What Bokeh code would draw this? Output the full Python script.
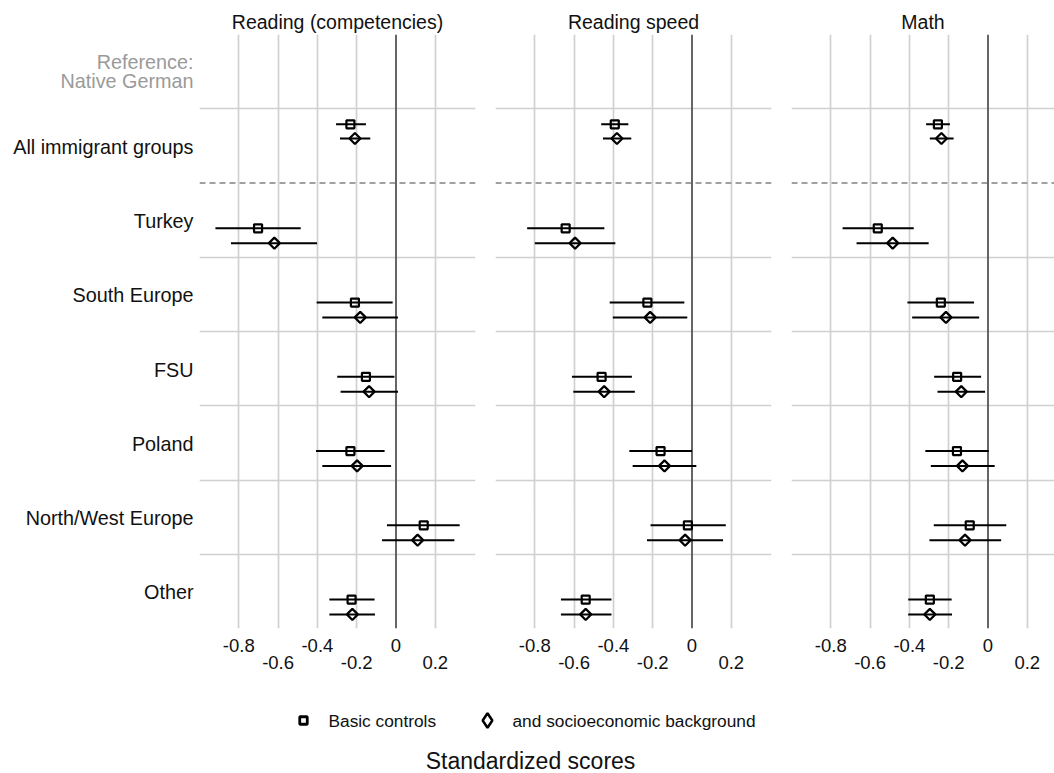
import math
from bokeh.plotting import figure
from bokeh.layouts import row, column
from bokeh.models import Range1d, FixedTicker, LinearAxis, Span, ColumnDataSource
from bokeh.core.properties import value
from bokeh.embed import file_html
from bokeh.resources import INLINE

# ---------------- data ----------------
groups = ["All immigrant groups", "Turkey", "South Europe", "FSU", "Poland",
          "North/West Europe", "Other"]
reference_label = "Reference:\nNative German"
outcomes = ["Reading (competencies)", "Reading speed", "Math"]
models = ["Basic controls", "and socioeconomic background"]

x_ticks = [-0.8, -0.6, -0.4, -0.2, 0, 0.2]
x_tick_labels = ["-0.8", "-0.6", "-0.4", "-0.2", "0", "0.2"]
x_title = "Standardized scores"

# Reading (competencies)
read_basic = [-0.232, -0.702, -0.209, -0.153, -0.232, 0.141, -0.226]
read_basic_lo = [-0.305, -0.919, -0.404, -0.299, -0.407, -0.046, -0.339]
read_basic_hi = [-0.153, -0.485, -0.017, -0.008, -0.058, 0.324, -0.109]
read_ses = [-0.209, -0.619, -0.182, -0.137, -0.198, 0.110, -0.222]
read_ses_lo = [-0.285, -0.840, -0.375, -0.282, -0.375, -0.071, -0.339]
read_ses_hi = [-0.131, -0.402, 0.010, 0.010, -0.025, 0.297, -0.107]

# Reading speed
speed_basic = [-0.393, -0.643, -0.227, -0.460, -0.160, -0.021, -0.541]
speed_basic_lo = [-0.462, -0.839, -0.419, -0.611, -0.319, -0.211, -0.667]
speed_basic_hi = [-0.324, -0.446, -0.039, -0.306, 0.000, 0.172, -0.410]
speed_ses = [-0.382, -0.595, -0.213, -0.447, -0.140, -0.035, -0.541]
speed_ses_lo = [-0.453, -0.800, -0.403, -0.604, -0.302, -0.229, -0.667]
speed_ses_hi = [-0.309, -0.390, -0.024, -0.291, 0.022, 0.158, -0.410]

# Math
math_basic = [-0.255, -0.561, -0.240, -0.157, -0.158, -0.093, -0.296]
math_basic_lo = [-0.315, -0.740, -0.410, -0.274, -0.319, -0.276, -0.406]
math_basic_hi = [-0.194, -0.378, -0.071, -0.035, 0.004, 0.093, -0.185]
math_ses = [-0.237, -0.485, -0.214, -0.136, -0.130, -0.117, -0.296]
math_ses_lo = [-0.296, -0.669, -0.386, -0.257, -0.291, -0.298, -0.406]
math_ses_hi = [-0.175, -0.302, -0.045, -0.015, 0.034, 0.067, -0.183]

# ---------------- styling / layout ----------------
FONT = "Liberation Sans"
GRID = "#d0d0d0"
PX_PER_UNIT = 196.5
X_START = -1.0
FRAME_TOP, FRAME_H, FRAME_BOTTOM_BORDER = 34, 594, 52
ROW_H = FRAME_TOP + FRAME_H + FRAME_BOTTOM_BORDER
LABEL_W = 199
panel_frames = [276, 276, 263]
panel_borders = [(0, 10), (10, 10), (10, 0)]

# band index for each group (band 0 = reference row)
bands = list(range(1, len(groups) + 1))


def y_offsets(band):
    # vertical placement of the two estimates inside a band
    if band == 1:
        return 0.21, 0.40
    return 0.61, 0.81


y_range = Range1d(len(groups) + 1, 0)

# label column
lab = figure(width=LABEL_W, height=ROW_H, x_range=Range1d(0, 1), y_range=y_range,
             toolbar_location=None, output_backend="svg",
             min_border_left=0, min_border_right=0, min_border_top=FRAME_TOP,
             min_border_bottom=FRAME_BOTTOM_BORDER,
             x_axis_location=None, y_axis_location=None, outline_line_color=None)
lab.grid.visible = False
lab.text(x=[1] * len(groups), y=[b + 0.5 for b in bands], text=groups,
         text_align="right", text_baseline="middle", x_offset=-6, y_offset=1,
         text_font=value(FONT), text_font_size="19.8px", text_color="#111111")
lab.text(x=[1], y=[0.5], text=[reference_label], text_align="right",
         text_baseline="middle", x_offset=-6, y_offset=0, text_line_height=0.87,
         text_font=value(FONT), text_font_size="19.8px", text_color="#9a9a9a")

series = [
    (read_basic, read_basic_lo, read_basic_hi, read_ses, read_ses_lo, read_ses_hi),
    (speed_basic, speed_basic_lo, speed_basic_hi, speed_ses, speed_ses_lo, speed_ses_hi),
    (math_basic, math_basic_lo, math_basic_hi, math_ses, math_ses_lo, math_ses_hi),
]

overrides = {t: l for t, l in zip(x_ticks, x_tick_labels)}
row1 = x_ticks[0::2]
row2 = x_ticks[1::2]

panels = []
for j, outcome in enumerate(outcomes):
    fw = panel_frames[j]
    bl, br = panel_borders[j]
    p = figure(width=fw + bl + br, height=ROW_H,
               x_range=Range1d(X_START, X_START + fw / PX_PER_UNIT), y_range=y_range,
               toolbar_location=None, output_backend="svg",
               min_border_left=bl, min_border_right=br, min_border_top=FRAME_TOP,
               min_border_bottom=FRAME_BOTTOM_BORDER,
               y_axis_location=None, outline_line_color=None, title=outcome)
    p.title.align = "center"
    p.title.text_font = FONT
    p.title.text_font_size = "19.5px"
    p.title.text_font_style = "normal"
    p.title.text_color = "#111111"
    p.title.standoff = 4

    p.xgrid.ticker = FixedTicker(ticks=[t for t in x_ticks if t != 0])
    p.xgrid.grid_line_color = GRID
    p.xgrid.grid_line_width = 1.7
    p.ygrid.ticker = FixedTicker(ticks=[1] + list(range(3, len(groups) + 1)))
    p.ygrid.grid_line_color = GRID
    p.ygrid.grid_line_width = 1.7

    ax1 = p.xaxis[0]
    ax2 = LinearAxis()
    p.add_layout(ax2, "below")
    for ax, ticks, st in ((ax1, row1, 10), (ax2, row2, 1)):
        ax.ticker = FixedTicker(ticks=ticks)
        ax.major_label_overrides = {t: overrides[t] for t in ticks}
        ax.axis_line_color = None
        ax.major_tick_line_color = None
        ax.minor_tick_line_color = None
        ax.major_tick_out = 0
        ax.major_tick_in = 0
        ax.major_label_standoff = st
        ax.major_label_text_font = FONT
        ax.major_label_text_font_size = "18.5px"
        ax.major_label_text_color = "#111111"

    p.add_layout(Span(location=2, dimension="width", line_color="#a0a0a0",
                      line_width=1.8, line_dash="6 4", level="underlay"))
    p.add_layout(Span(location=0, dimension="height", line_color="#555555",
                      line_width=1.8, level="underlay"))

    b, blo, bhi, s, slo, shi = series[j]
    ysq = [bd + y_offsets(bd)[0] for bd in bands]
    ydi = [bd + y_offsets(bd)[1] for bd in bands]
    src_b = ColumnDataSource(dict(x=b, lo=blo, hi=bhi, y=ysq))
    src_s = ColumnDataSource(dict(x=s, lo=slo, hi=shi, y=ydi))
    for src in (src_b, src_s):
        p.segment(x0="lo", y0="y", x1="hi", y1="y", source=src,
                  line_color="black", line_width=2)
    p.scatter(x="x", y="y", source=src_b, marker="square", size=8,
              fill_color=None, line_color="black", line_width=2.2)
    p.scatter(x="x", y="y", source=src_s, marker="square", size=7.8, angle=math.pi / 4,
              fill_color=None, line_color="black", line_width=2.2)
    panels.append(p)

# legend + overall axis title
TOTAL_W = LABEL_W + sum(fw + bl + br for fw, (bl, br) in zip(panel_frames, panel_borders))
LEG_H = 92
leg = figure(width=TOTAL_W, height=LEG_H, x_range=Range1d(0, TOTAL_W),
             y_range=Range1d(LEG_H, 0), toolbar_location=None, output_backend="svg",
             min_border=0, x_axis_location=None, y_axis_location=None,
             outline_line_color=None)
leg.grid.visible = False
leg_y = 40
leg_key_x = [303, 487]
leg.scatter(x=[leg_key_x[0]], y=[leg_y], marker="square", size=7.5, fill_color=None,
            line_color="black", line_width=2.8)
leg.scatter(x=[leg_key_x[1]], y=[leg_y], marker="diamond", size=14.5, fill_color=None,
            line_color="black", line_width=2.5)
leg.text(x=[k + 25 for k in leg_key_x], y=[leg_y] * 2, text=models,
         text_align="left", text_baseline="middle", text_font=value(FONT),
         text_font_size="17.3px", text_color="#111111")
leg.text(x=[530], y=[80], text=[x_title], text_align="center",
         text_baseline="middle", text_font=value(FONT), text_font_size="23px",
         text_color="#111111")

layout = column(row(lab, *panels), leg)
open("out.html", "w").write(file_html(layout, INLINE))
